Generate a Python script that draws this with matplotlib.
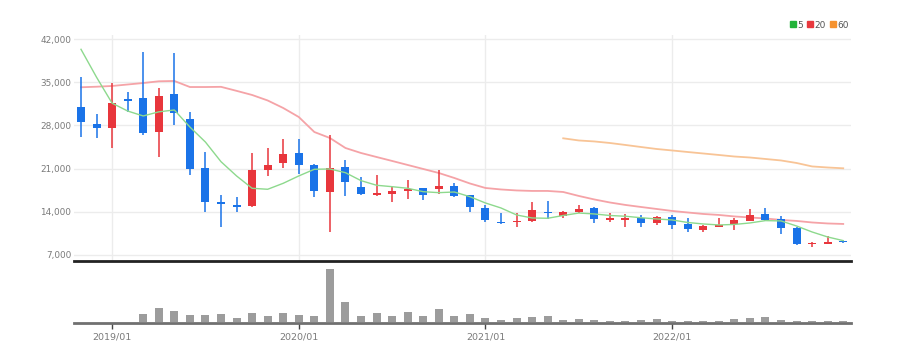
import numpy as np
import pandas as pd
import matplotlib.pyplot as plt
from matplotlib.lines import Line2D
from matplotlib.ticker import FuncFormatter

plt.rcParams['font.family'] = ['Liberation Sans Narrow', 'DejaVu Sans']

# monthly candles, 2018/11 .. 2022/12
months = pd.date_range('2018-11-01', periods=50, freq='MS').strftime('%Y/%m').tolist()

opens = [31030, 28180, 27530, 32230, 32390, 26890, 33040, 29040, 21050, 15550,
         15060, 14950, 20730, 21860, 23480, 21590, 17260, 21310, 18070, 16680,
         16940, 17330, 17810, 17650, 18240, 16730, 14670, 12400, 12310, 12570,
         14020, 13370, 13930, 14570, 12630, 12680, 12950, 12240, 13210, 11980,
         11060, 11590, 11980, 12570, 13650, 12790, 11330, 8840, 8840, 9330]
closes = [28600, 27530, 31580, 32010, 26720, 32770, 29960, 20890, 15640, 15320,
          14830, 20780, 21540, 23370, 21540, 17430, 21050, 18790, 16840, 17050,
          17330, 17750, 16730, 18190, 16570, 14740, 12680, 12140, 12570, 14300,
          13760, 14020, 14410, 12840, 12950, 12950, 12240, 13210, 11870, 11170,
          11760, 11870, 12680, 13490, 12680, 11330, 8790, 9000, 9070, 9070]
highs = [35890, 29850, 34920, 33370, 39850, 34110, 39680, 30130, 23740, 16730,
         16450, 23480, 24290, 25750, 25750, 21700, 26450, 22400, 19600, 19970,
         18070, 19160, 17900, 20780, 18620, 16800, 15110, 13860, 13760, 15550,
         15810, 14100, 15110, 14730, 13760, 13600, 13490, 13400, 13440, 12950,
         11900, 12950, 13050, 14410, 14570, 13330, 11500, 9050, 10090, 9400]
lows = [26120, 25910, 24290, 30220, 26400, 22930, 28070, 19970, 14020, 11590,
        13930, 14740, 19860, 21150, 20130, 16360, 10780, 16620, 16700, 16600,
        15550, 16080, 15920, 16890, 16450, 13930, 12400, 12100, 11500, 12400,
        12840, 13050, 13760, 12140, 12400, 11590, 11500, 11870, 11220, 10780,
        10780, 11500, 11060, 12500, 12570, 10410, 8630, 8350, 8800, 9000]
volumes = [0, 0, 0, 0, 83000, 143000, 113000, 73000, 73000, 80000,
           47000, 90000, 60000, 93000, 77000, 60000, 543000, 207000, 60000, 93000,
           63000, 100000, 67000, 133000, 60000, 80000, 43000, 23000, 47000, 50000,
           60000, 27000, 30000, 23000, 13000, 13000, 20000, 30000, 17000, 13000,
           13000, 13000, 30000, 43000, 50000, 27000, 17000, 13000, 13000, 13000]

ma5 = [40330, 35800, 31600, 30330, 29530, 30200, 30500, 27740, 25300, 22120,
       19810, 17810, 17650, 18620, 19810, 20890, 20940, 20340, 19050, 18300,
       18070, 17810, 17260, 17100, 17210, 16450, 15430, 14620, 13490, 13000,
       12950, 13400, 13800, 13650, 13400, 13280, 13040, 12840, 12680, 12270,
       12030, 11870, 11950, 12190, 12570, 12520, 11700, 10730, 9920, 9330]
ma20 = [34180, 34270, 34390, 34630, 34870, 35150, 35200, 34220, 34220, 34250,
        33600, 32930, 32040, 30820, 29360, 26930, 25960, 24340, 23530, 22880,
        22240, 21590, 20940, 20290, 19480, 18590, 17860, 17620, 17460, 17380,
        17380, 17210, 16570, 16000, 15510, 15110, 14780, 14460, 14140, 13890,
        13650, 13490, 13250, 13080, 12920, 12680, 12520, 12270, 12110, 12030]
ma60 = [np.nan] * 31 + [25910, 25560, 25400, 25150, 24830, 24500, 24180, 23940,
                        23690, 23450, 23210, 22960, 22800, 22560, 22320, 21910,
                        21350, 21180, 21050]

UP = '#e8363c'
DOWN = '#1a73e8'

x = np.arange(len(months))
o = np.array(opens)
c = np.array(closes)
colors = [UP if cc >= oo else DOWN for oo, cc in zip(o, c)]
body_bottom = np.minimum(o, c)
body_height = np.maximum(np.abs(c - o), 160)

fig = plt.figure(figsize=(9, 3.63), dpi=100)
ax = fig.add_axes([74 / 900, 1 - 261 / 363, 777 / 900, 226 / 363])
axv = fig.add_axes([74 / 900, 1 - 323 / 363, 777 / 900, 58 / 363], sharex=ax)

# price panel
ax.vlines(x, lows, highs, colors=colors, linewidth=1.1, zorder=3)
ax.bar(x, body_height, bottom=body_bottom, width=0.52, color=colors, zorder=4)
ax.plot(x, ma5, color='#8dd98d', linewidth=1.0, zorder=5)
ax.plot(x, ma20, color='#f5a3a7', linewidth=1.3, zorder=2)
ax.plot(x, ma60, color='#f8c496', linewidth=1.3, zorder=2)

ax.set_xlim(-0.45, 49.5)
ax.set_ylim(6027, 42650)
ax.set_yticks(range(7000, 42001, 7000))
ax.yaxis.set_major_formatter(FuncFormatter(lambda v, p: f'{int(v):,}'))
ax.tick_params(axis='y', length=0, labelsize=6.4, labelcolor='#7a7a7a', pad=2)
ax.tick_params(axis='x', length=0, labelbottom=False)
year_ticks = [i for i, m in enumerate(months) if m.endswith('/01')]
ax.set_xticks(year_ticks)
ax.grid(True, color='#ececec', linewidth=1)
ax.set_axisbelow(True)
for s in ['top', 'right', 'left']:
    ax.spines[s].set_visible(False)
ax.spines['bottom'].set_color('#222222')
ax.spines['bottom'].set_linewidth(2)

# volume panel
axv.bar(x, volumes, bottom=8000, width=0.52, color='#9c9c9c', zorder=3)
axv.set_ylim(0, 588000)
axv.set_yticks([])
axv.set_xticks(year_ticks)
axv.set_xticklabels([months[i] for i in year_ticks])
axv.tick_params(axis='x', length=4, width=1, color='#444444', labelsize=6.8,
                labelcolor='#7a7a7a', pad=3)
for s in ['top', 'right', 'left']:
    axv.spines[s].set_visible(False)
axv.spines['bottom'].set_color('#707070')
axv.spines['bottom'].set_linewidth(2)

# moving-average legend
handles = [Line2D([], [], marker='s', color=col, linestyle='none', markersize=4)
           for col in ['#22b33a', '#e8383d', '#f5922f']]
fig.legend(handles, ['5', '20', '60'], loc='upper right',
           bbox_to_anchor=(852 / 900, 1 - 17 / 363), ncol=3, frameon=False,
           fontsize=6.5, handletextpad=0.05, columnspacing=0.4, handlelength=0.8,
           borderaxespad=0, labelcolor='#555555')

plt.savefig('out.png', dpi=100)
